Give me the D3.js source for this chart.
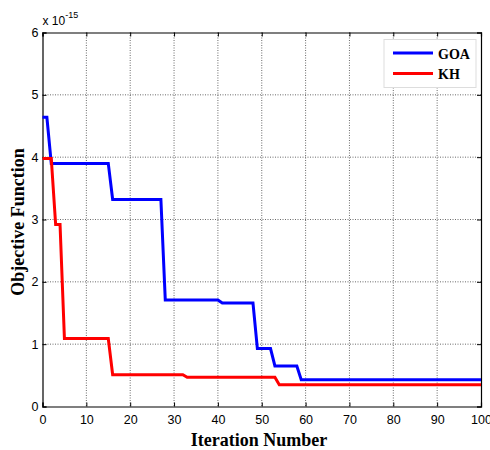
<!DOCTYPE html>
<html>
<head>
<meta charset="utf-8">
<script src="https://cdn.jsdelivr.net/npm/d3@7"></script>
<style>
  body { margin: 0; background: #fff; }
  svg { display: block; }
</style>
</head>
<body>
<svg id="root" width="490" height="450"></svg>
<script>
// convergence curves, values in units of 1e-15
const goaIter = [0, 1, 2, 15, 16, 27, 28, 40, 41, 48, 49, 52, 53, 58, 59, 100];
const goaValue = [4.64, 4.64, 3.90, 3.90, 3.32, 3.32, 1.71, 1.71, 1.66, 1.66, 0.93, 0.93, 0.65, 0.65, 0.43, 0.43];
const khIter = [0, 2, 3, 4, 5, 15, 16, 32, 33, 53, 54, 100];
const khValue = [3.98, 3.98, 2.92, 2.92, 1.09, 1.09, 0.51, 0.51, 0.47, 0.47, 0.35, 0.35];

const xTicks = d3.range(0, 101, 10);
const yTicks = d3.range(0, 7, 1);
const seriesNames = ['GOA', 'KH'];
const seriesColors = ['#0000ff', '#ff0000'];

const root = d3.select('#root');
const plotLeft = 42.5, plotRight = 481, plotTop = 32.5, plotBottom = 406.5;

const x = d3.scaleLinear().domain([0, 100]).range([plotLeft, plotRight]);
const y = d3.scaleLinear().domain([0, 6]).range([plotBottom, plotTop]);

// dotted grid
const grid = root.append('g')
    .attr('stroke', '#444')
    .attr('stroke-width', 0.8)
    .attr('stroke-dasharray', '1,1.5');
grid.selectAll('.gx').data(xTicks.slice(1, -1)).enter().append('line')
    .attr('x1', d => x(d)).attr('x2', d => x(d))
    .attr('y1', plotTop).attr('y2', plotBottom);
grid.selectAll('.gy').data(yTicks.slice(1, -1)).enter().append('line')
    .attr('x1', plotLeft).attr('x2', plotRight)
    .attr('y1', d => y(d)).attr('y2', d => y(d));

// axes with inward ticks on all four sides
const tickLen = 4;
const font = 'Liberation Sans, Arial, sans-serif';

root.append('g')
    .attr('transform', `translate(0,${plotBottom})`)
    .call(d3.axisBottom(x).tickValues(xTicks).tickSize(-tickLen).tickPadding(9))
    .call(g => g.selectAll('text').attr('font-size', 12.5).attr('font-family', font).attr('fill', '#000'));
root.append('g')
    .attr('transform', `translate(0,${plotTop})`)
    .call(d3.axisTop(x).tickValues(xTicks).tickSize(-tickLen).tickFormat(''));
root.append('g')
    .attr('transform', `translate(${plotLeft},0)`)
    .call(d3.axisLeft(y).tickValues(yTicks).tickSize(-tickLen).tickPadding(4).tickFormat(d3.format('d')))
    .call(g => g.selectAll('text').attr('font-size', 12.5).attr('font-family', font).attr('fill', '#000'));
root.append('g')
    .attr('transform', `translate(${plotRight},0)`)
    .call(d3.axisRight(y).tickValues(yTicks).tickSize(-tickLen).tickFormat(''));

root.selectAll('.domain').attr('stroke', '#000').attr('stroke-width', 1.2);
root.selectAll('.tick line').attr('stroke', '#000');

// exponent label
const expo = root.append('text')
    .attr('x', plotLeft)
    .attr('y', 25)
    .attr('font-family', font)
    .attr('font-size', 12);
expo.append('tspan').text('x 10');
expo.append('tspan').attr('font-size', 9).attr('dy', -7).text('-15');

// curves
const line = d3.line().x(d => x(d[0])).y(d => y(d[1]));
const series = [
    d3.zip(goaIter, goaValue),
    d3.zip(khIter, khValue)
];
root.append('g').selectAll('path').data(series).enter().append('path')
    .attr('d', line)
    .attr('fill', 'none')
    .attr('stroke', (d, i) => seriesColors[i])
    .attr('stroke-width', 3)
    .attr('stroke-linejoin', 'miter');

// axis titles
const serif = 'Liberation Serif, Times New Roman, serif';
root.append('text')
    .attr('x', 259)
    .attr('y', 446)
    .attr('text-anchor', 'middle')
    .attr('font-family', serif)
    .attr('font-weight', 'bold')
    .attr('font-size', 18)
    .text('Iteration  Number');
root.append('text')
    .attr('transform', 'translate(24,222) rotate(-90)')
    .attr('text-anchor', 'middle')
    .attr('font-family', serif)
    .attr('font-weight', 'bold')
    .attr('font-size', 18)
    .text('Objective  Function');

// legend
const legend = root.append('g');
legend.append('rect')
    .attr('x', 384).attr('y', 39.5)
    .attr('width', 92).attr('height', 48)
    .attr('fill', '#fff')
    .attr('stroke', '#ddd');
const items = legend.selectAll('.item').data(seriesNames).enter().append('g')
    .attr('transform', (d, i) => `translate(0,${53 + i * 20.5})`);
items.append('line')
    .attr('x1', 393).attr('x2', 433)
    .attr('stroke', (d, i) => seriesColors[i])
    .attr('stroke-width', 3);
items.append('text')
    .attr('x', 438).attr('y', 5.5)
    .attr('font-family', serif)
    .attr('font-weight', 'bold')
    .attr('font-size', 14)
    .text(d => d);
</script>
</body>
</html>
